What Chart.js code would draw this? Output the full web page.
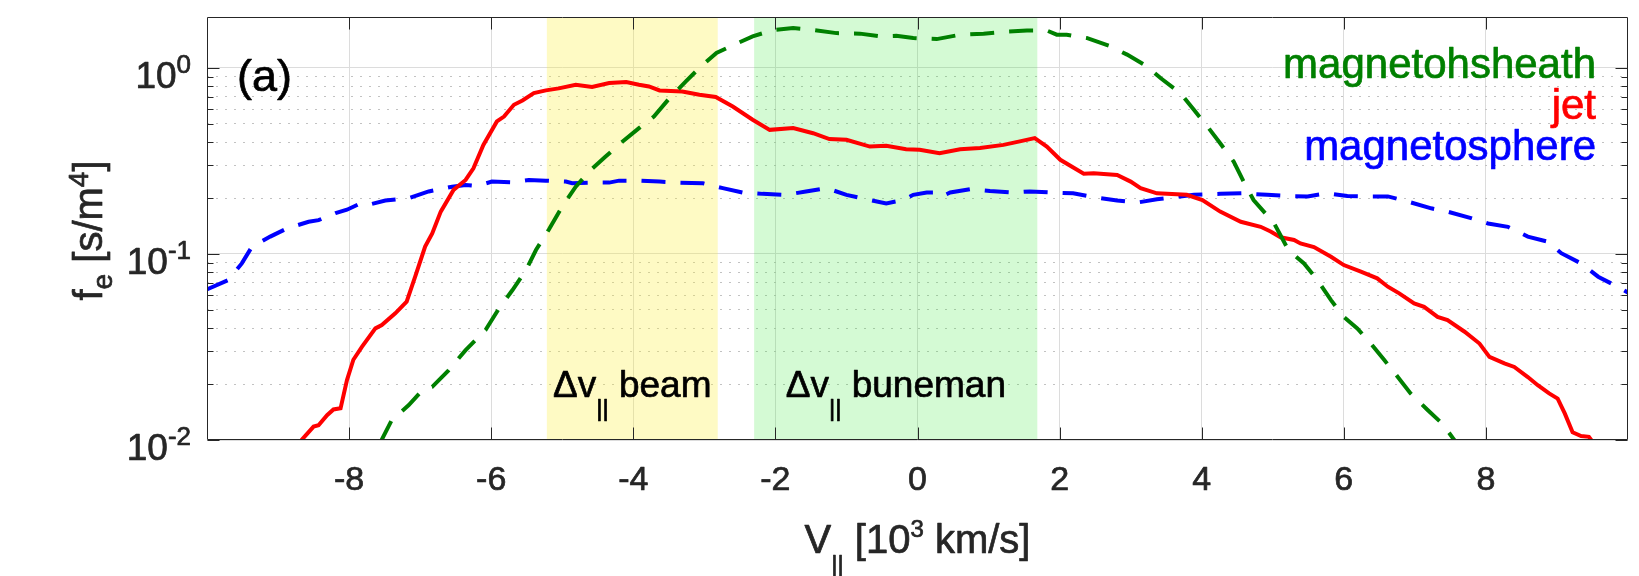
<!DOCTYPE html>
<html lang="en">
<head>
<meta charset="UTF-8">
<title>Electron distribution, jet vs magnetosheath vs magnetosphere</title>
<script src="https://cdn.jsdelivr.net/npm/chart.js@4.4.1/dist/chart.umd.min.js"></script>
<style>
  html, body { margin: 0; padding: 0; background: #fff; }
  canvas { display: block; }
</style>
</head>
<body>
<canvas id="chart" width="1639" height="576"></canvas>
<script>
// values: V_par in 10^3 km/s, f_e in s/m^4
const sheathV = [-7.56, -7.40, -7.16, -6.97, -6.83, -6.60, -6.36, -6.08, -5.89, -5.70, -5.51, -5.37, -5.19, -5.00, -4.81, -4.60, -4.39, -4.15, -3.92, -3.71, -3.49, -3.26, -3.07, -2.83, -2.58, -2.32, -2.04, -1.75, -1.52, -1.14, -0.81, -0.53, -0.30, -0.06, 0.10, 0.27, 0.60, 0.93, 1.26, 1.54, 1.82, 1.96, 2.10, 2.38, 2.71, 2.95, 3.23, 3.42, 3.70, 3.89, 4.08, 4.26, 4.45, 4.59, 4.73, 5.02, 5.22, 5.44, 5.63, 5.82, 6.00, 6.19, 6.38, 6.57, 6.76, 6.94, 7.18, 7.39, 7.58];
const sheathF = [0.0097, 0.0128, 0.0154, 0.0185, 0.0193, 0.0237, 0.0304, 0.039, 0.051, 0.064, 0.082, 0.105, 0.135, 0.18, 0.23, 0.283, 0.334, 0.403, 0.475, 0.548, 0.689, 0.847, 1.0, 1.205, 1.335, 1.48, 1.595, 1.64, 1.61, 1.54, 1.53, 1.48, 1.49, 1.45, 1.44, 1.43, 1.51, 1.53, 1.57, 1.59, 1.59, 1.51, 1.51, 1.45, 1.31, 1.18, 1.02, 0.883, 0.733, 0.596, 0.485, 0.394, 0.314, 0.245, 0.195, 0.146, 0.105, 0.089, 0.0724, 0.0565, 0.0459, 0.0398, 0.033, 0.0269, 0.0218, 0.0178, 0.0145, 0.0122, 0.0097];

const jetV = [-8.70, -8.50, -8.43, -8.31, -8.22, -8.12, -8.03, -7.94, -7.82, -7.63, -7.54, -7.35, -7.19, -7.07, -6.93, -6.83, -6.71, -6.53, -6.36, -6.25, -6.11, -5.92, -5.82, -5.68, -5.56, -5.40, -5.23, -5.05, -4.81, -4.58, -4.34, -4.10, -3.92, -3.78, -3.63, -3.31, -3.07, -2.84, -2.60, -2.32, -2.08, -1.75, -1.47, -1.24, -1.00, -0.67, -0.44, -0.16, 0.03, 0.31, 0.60, 0.88, 1.21, 1.44, 1.65, 1.82, 2.01, 2.34, 2.48, 2.81, 3.00, 3.14, 3.37, 3.79, 4.01, 4.26, 4.55, 4.83, 4.97, 5.11, 5.30, 5.39, 5.58, 5.82, 6.00, 6.24, 6.47, 6.62, 6.78, 6.99, 7.13, 7.32, 7.46, 7.70, 7.91, 8.05, 8.26, 8.40, 8.59, 8.73, 8.89, 9.01, 9.11, 9.22, 9.34, 9.45, 9.50];
const jetF = [0.0097, 0.0118, 0.012, 0.0136, 0.0146, 0.0148, 0.021, 0.027, 0.0317, 0.0398, 0.0415, 0.048, 0.0554, 0.0755, 0.1095, 0.129, 0.169, 0.221, 0.25, 0.289, 0.386, 0.516, 0.548, 0.634, 0.669, 0.733, 0.758, 0.777, 0.813, 0.79, 0.83, 0.841, 0.813, 0.796, 0.757, 0.748, 0.718, 0.698, 0.621, 0.527, 0.465, 0.475, 0.446, 0.415, 0.411, 0.378, 0.382, 0.366, 0.363, 0.348, 0.366, 0.371, 0.386, 0.403, 0.42, 0.378, 0.321, 0.27, 0.272, 0.266, 0.245, 0.226, 0.212, 0.208, 0.195, 0.169, 0.149, 0.14, 0.132, 0.123, 0.119, 0.114, 0.109, 0.0966, 0.0872, 0.0803, 0.074, 0.0667, 0.0614, 0.0543, 0.052, 0.0459, 0.0441, 0.0382, 0.033, 0.028, 0.0258, 0.0247, 0.0218, 0.0197, 0.0178, 0.0167, 0.0139, 0.011, 0.0105, 0.0104, 0.0098];

const sphereV = [-10.02, -9.70, -9.51, -9.37, -9.11, -8.88, -8.57, -8.43, -8.19, -8.03, -7.84, -7.72, -7.49, -7.16, -6.88, -6.55, -6.36, -6.20, -5.99, -5.70, -5.47, -5.23, -4.95, -4.86, -4.58, -4.34, -4.20, -3.92, -3.63, -3.35, -3.02, -2.74, -2.46, -2.18, -1.85, -1.57, -1.28, -1.00, -0.72, -0.44, -0.20, -0.06, 0.13, 0.24, 0.34, 0.46, 0.74, 1.02, 1.35, 1.58, 1.91, 2.19, 2.48, 2.81, 3.09, 3.37, 3.70, 3.89, 4.26, 4.59, 4.92, 5.20, 5.49, 5.77, 6.05, 6.33, 6.62, 6.85, 7.23, 7.46, 7.79, 8.03, 8.31, 8.59, 8.87, 9.06, 9.34, 9.58, 9.81, 10.02];
const sphereF = [0.064, 0.0724, 0.089, 0.109, 0.124, 0.137, 0.149, 0.152, 0.166, 0.173, 0.187, 0.184, 0.194, 0.1995, 0.217, 0.23, 0.235, 0.232, 0.245, 0.243, 0.25, 0.248, 0.245, 0.24, 0.242, 0.242, 0.248, 0.248, 0.245, 0.242, 0.24, 0.226, 0.214, 0.2105, 0.208, 0.217, 0.226, 0.208, 0.197, 0.187, 0.195, 0.208, 0.214, 0.214, 0.204, 0.214, 0.223, 0.218, 0.214, 0.217, 0.214, 0.212, 0.202, 0.194, 0.189, 0.197, 0.204, 0.208, 0.2105, 0.212, 0.208, 0.205, 0.204, 0.212, 0.205, 0.204, 0.204, 0.194, 0.176, 0.169, 0.156, 0.146, 0.14, 0.124, 0.1165, 0.101, 0.089, 0.0755, 0.068, 0.0614];

// shaded velocity intervals
const bandNames = ['beam', 'buneman'];
const bandStart = [-5.22, -2.30];
const bandEnd = [-2.81, 1.69];
const bandColors = ['rgba(253, 238, 60, 0.3)', 'rgba(40, 230, 40, 0.2)'];

// axes
const xMin = -10, xMax = 10;
const yMin = 0.01, yMax = 1.88;
const xTicks = [-8, -6, -4, -2, 0, 2, 4, 6, 8];
const yDecades = [-2, -1, 0];

const ink = '#262626';
const face = '"Liberation Sans", Arial, Helvetica, sans-serif';

function pts(xs, ys) {
    return xs.map((v, i) => ({x: v, y: ys[i]}));
}

// text made of runs: [text, size, baseline shift]; a thin stroke gives the heavier look of the original
function rich(ctx, parts, x, y, align, color) {
    ctx.fillStyle = color || ink;
    ctx.strokeStyle = color || ink;
    ctx.lineWidth = 0.7;
    ctx.lineJoin = 'round';
    ctx.setLineDash([]);
    ctx.textAlign = 'left';
    ctx.textBaseline = 'alphabetic';
    let w = 0;
    parts.forEach(p => { ctx.font = p[1] + 'px ' + face; w += ctx.measureText(p[0]).width; });
    let cx = align === 'right' ? x - w : align === 'center' ? x - w / 2 : x;
    parts.forEach(p => {
        ctx.font = p[1] + 'px ' + face;
        ctx.fillText(p[0], cx, y + (p[2] || 0));
        ctx.strokeText(p[0], cx, y + (p[2] || 0));
        cx += ctx.measureText(p[0]).width;
    });
}

const decor = {
    id: 'decor',
    afterDraw(chart) {
        const {ctx, chartArea: a, scales: {x, y}} = chart;
        const L = Math.round(a.left) + 0.5, R = Math.round(a.right) - 0.5;
        const T = Math.round(a.top) + 0.5, B = Math.round(a.bottom) - 0.5;
        ctx.save();
        ctx.strokeStyle = ink;
        ctx.lineWidth = 1;
        ctx.beginPath();
        ctx.rect(L, T, R - L, B - T);
        xTicks.forEach(v => {
            const px = Math.round(x.getPixelForValue(v)) + 0.5;
            ctx.moveTo(px, B); ctx.lineTo(px, B - 12);
            ctx.moveTo(px, T); ctx.lineTo(px, T + 12);
        });
        y.ticks.forEach(t => {
            const py = Math.round(y.getPixelForValue(t.value)) + 0.5;
            const len = t.major ? 12 : 6;
            ctx.moveTo(L, py); ctx.lineTo(L + len, py);
            ctx.moveTo(R, py); ctx.lineTo(R - len, py);
        });
        ctx.stroke();

        // tick labels
        xTicks.forEach(v => rich(ctx, [[String(v), 34]], x.getPixelForValue(v), 490, 'center'));
        yDecades.forEach(e => {
            const py = y.getPixelForValue(Math.pow(10, e));
            rich(ctx, [['10', 37], [String(e), 26, -15]], 191, py + 20, 'right');
        });

        // axis titles
        rich(ctx, [['V', 40], ['||', 24, 19], [' [10', 40], ['3', 24, -16], [' km/s]', 40]],
            (a.left + a.right) / 2, 553, 'center');
        ctx.save();
        ctx.translate(102, (a.top + a.bottom) / 2 + 2);
        ctx.rotate(-Math.PI / 2);
        rich(ctx, [['f', 40], ['e', 28, 10], [' [s/m', 40], ['4', 28, -14], [']', 40]], 0, 0, 'center');
        ctx.restore();

        // panel tag
        rich(ctx, [['(a)', 45]], 237, 91, 'left', '#000');

        // series names
        const base = [78, 118.5, 160];
        chart.data.datasets.slice(0, 3).forEach((d, i) => {
            rich(ctx, [[d.label, 42]], 1596, base[i], 'right', d.borderColor);
        });

        // band labels
        bandNames.forEach((n, i) => {
            const mid = x.getPixelForValue((bandStart[i] + bandEnd[i]) / 2);
            rich(ctx, [['\u0394v', 37], ['||', 24, 19], [' ' + n, 37]], mid, 397, 'center', '#000');
        });
        ctx.restore();
    }
};

const bands = bandNames.map((n, i) => ({
    label: n,
    data: [{x: bandStart[i], y: yMax}, {x: bandEnd[i], y: yMax}],
    fill: 'start',
    backgroundColor: bandColors[i],
    borderWidth: 0,
    pointRadius: 0
}));

new Chart(document.getElementById('chart'), {
    type: 'line',
    data: {
        datasets: [
            {label: 'magnetohsheath', data: pts(sheathV, sheathF), borderColor: '#008000', borderDash: [24, 15], borderWidth: 4, pointRadius: 0, tension: 0},
            {label: 'jet', data: pts(jetV, jetF), borderColor: '#ff0000', borderWidth: 4, pointRadius: 0, tension: 0},
            {label: 'magnetosphere', data: pts(sphereV, sphereF), borderColor: '#0000ff', borderDash: [24, 15], borderWidth: 4, pointRadius: 0, tension: 0}
        ].concat(bands)
    },
    options: {
        responsive: false,
        animation: false,
        layout: {padding: {left: 207, top: 17, right: 11, bottom: 136}},
        plugins: {legend: {display: false}, tooltip: {enabled: false}},
        scales: {
            x: {
                type: 'linear', min: xMin, max: xMax,
                afterBuildTicks: s => { s.ticks = xTicks.map(v => ({value: v, major: true})); },
                ticks: {display: false},
                grid: {drawTicks: false, color: '#dcdcdc', lineWidth: 1},
                border: {display: false}
            },
            y: {
                type: 'logarithmic', min: yMin, max: yMax,
                afterBuildTicks: s => {
                    const t = [];
                    yDecades.forEach(e => {
                        const d = Math.pow(10, e);
                        for (let k = 1; k <= 9; k++) {
                            const v = k * d;
                            if (v >= yMin && v <= yMax) t.push({value: v, major: k === 1});
                        }
                    });
                    s.ticks = t;
                },
                ticks: {display: false},
                grid: {
                    drawTicks: false, lineWidth: 1,
                    color: c => (c.tick && c.tick.major) ? '#dcdcdc' : '#c2c2c2'
                },
                border: {display: false, dash: c => (c.tick && !c.tick.major) ? [2, 7] : []}
            }
        }
    },
    plugins: [decor]
});
</script>
</body>
</html>
